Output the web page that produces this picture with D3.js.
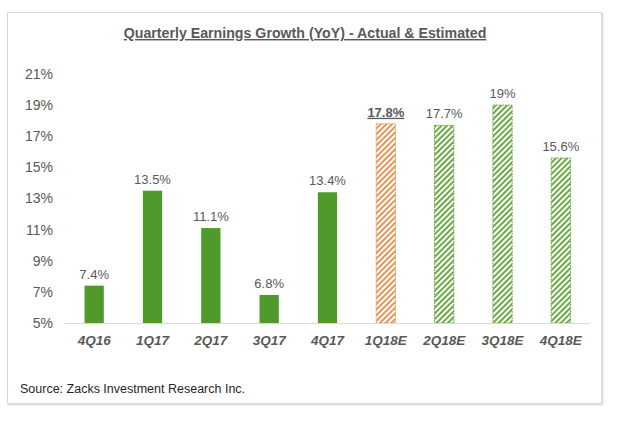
<!DOCTYPE html>
<html><head><meta charset="utf-8">
<script src="https://cdn.jsdelivr.net/npm/d3@7"></script>
<style>body{margin:0;background:#fff;}svg{display:block;font-family:Arial,"Liberation Sans",sans-serif;}</style>
</head><body><svg id="c" width="620" height="424"></svg>
<script>
const categories = ["4Q16","1Q17","2Q17","3Q17","4Q17","1Q18E","2Q18E","3Q18E","4Q18E"];
const values = [7.4,13.5,11.1,6.8,13.4,17.8,17.7,19,15.6];
const labels = ["7.4%","13.5%","11.1%","6.8%","13.4%","17.8%","17.7%","19%","15.6%"];
const kinds = ["actual","actual","actual","actual","actual","current","estimate","estimate","estimate"];
const yTicks = [5,7,9,11,13,15,17,19,21];
const title = "Quarterly Earnings Growth (YoY) - Actual & Estimated";
const source = "Source: Zacks Investment Research Inc.";

const svg = d3.select("#c");
const defs = svg.append("defs");
const f = defs.append("filter").attr("id","sh").attr("x","-5%").attr("y","-5%").attr("width","110%").attr("height","110%");
f.append("feDropShadow").attr("dx",1).attr("dy",1).attr("stdDeviation",1.2).attr("flood-color","#000").attr("flood-opacity",0.18);

function pat(id, color){
  const p = defs.append("pattern").attr("id",id).attr("patternUnits","userSpaceOnUse")
    .attr("width",4).attr("height",4).attr("patternTransform","rotate(45)");
  p.append("rect").attr("width",4).attr("height",4).attr("fill","#fff");
  p.append("rect").attr("x",0).attr("y",0).attr("width",2).attr("height",4).attr("fill",color);
}
pat("hg","#6aab45");
pat("ho","#e5955a");

svg.append("rect").attr("x",7.5).attr("y",12.5).attr("width",594).attr("height",391)
  .attr("fill","#fff").attr("stroke","#d9d9d9").attr("filter","url(#sh)");

const x = d3.scaleBand().domain(categories).range([65,590]).paddingInner(0.67).paddingOuter(0.335);
const y = d3.scaleLinear().domain([5,21]).range([323,74]);

svg.append("text").attr("x",305).attr("y",38).attr("text-anchor","middle")
  .attr("font-size",14.2).attr("font-weight","bold").attr("fill","#595959")
  .attr("text-decoration","underline").text(title);

const ya = svg.append("g").attr("transform","translate(53,0)")
  .call(d3.axisLeft(y).tickValues(yTicks).tickFormat(d=>d+"%").tickSize(0).tickPadding(0));
ya.select(".domain").remove();
ya.selectAll("text").attr("font-size",14).attr("fill","#595959").attr("font-family","Arial,'Liberation Sans',sans-serif");

const fills = {actual:"#4f9a2b", current:"url(#ho)", estimate:"url(#hg)"};
const strokes = {actual:"none", current:"#e5955a", estimate:"#6aab45"};
const data = categories.map((c,i)=>({c,v:values[i],l:labels[i],k:kinds[i]}));

svg.append("g").selectAll("rect").data(data).join("rect")
  .attr("x",d=>x(d.c)).attr("width",x.bandwidth())
  .attr("y",d=>y(d.v)).attr("height",d=>y(5)-y(d.v))
  .attr("fill",d=>fills[d.k]).attr("stroke",d=>strokes[d.k])
  .attr("stroke-width",1).attr("stroke-dasharray",d=>d.k==="actual"?null:"2,1");

const xa = svg.append("g").attr("transform","translate(0,323)")
  .call(d3.axisBottom(x).tickSize(0).tickPadding(12));
xa.select(".domain").attr("stroke","#d9d9d9").attr("d","M65,0.5H590");
xa.selectAll("text").attr("font-size",13.5).attr("font-weight","bold").attr("font-style","italic")
  .attr("fill","#595959").attr("font-family","Arial,'Liberation Sans',sans-serif");

svg.append("g").selectAll("text").data(data).join("text")
  .attr("x",d=>x(d.c)+x.bandwidth()/2).attr("y",d=>y(d.v)-7)
  .attr("text-anchor","middle").attr("font-size",13).attr("fill","#595959")
  .attr("font-weight",d=>d.k==="current"?"bold":null)
  .attr("text-decoration",d=>d.k==="current"?"underline":null)
  .text(d=>d.l);

svg.append("text").attr("x",20).attr("y",393).attr("font-size",12.5).attr("fill","#262626").text(source);
</script></body></html>
